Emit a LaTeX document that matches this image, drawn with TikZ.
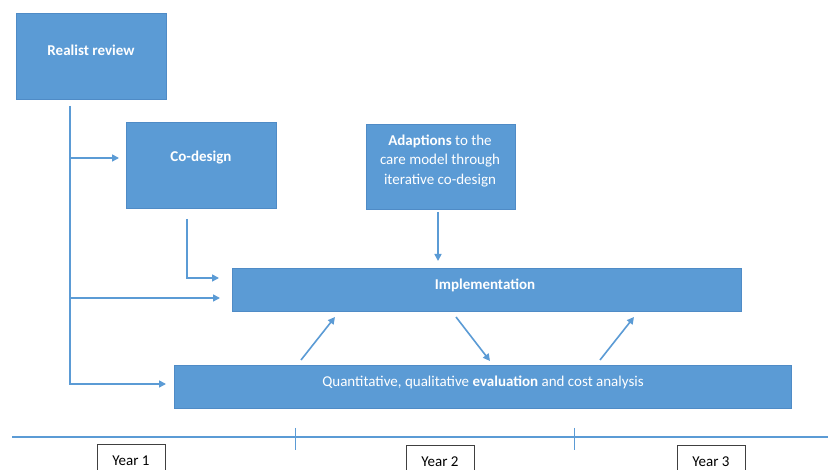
\documentclass[tikz,border=0pt]{standalone}
\usepackage{fontspec}
\setmainfont{Carlito}
\usetikzlibrary{arrows.meta}
\definecolor{obl}{HTML}{5B9BD5}
\definecolor{obd}{HTML}{4F8BC6}
\begin{document}
\begin{tikzpicture}[x=1pt,y=-1pt,
  box/.style={draw=obd, fill=obl, line width=0.8pt, rectangle, inner sep=0pt, anchor=north west},
  lbl/.style={text=white, font=\fontsize{15}{19.5}\selectfont, align=center, inner sep=0pt},
  conn/.style={draw=obl, line width=1.6pt, -{Triangle[length=7pt,width=7pt]}},
  yearbox/.style={draw=black!75, fill=white, line width=0.8pt, rectangle, inner sep=0pt, anchor=north west, minimum width=68pt, minimum height=30pt},
  yearlbl/.style={text=black, font=\fontsize{15}{18}\selectfont, inner sep=0pt}]
\useasboundingbox (0,0) rectangle (828,470);
\clip (0,0) rectangle (828,470);
\fill[white] (0,0) rectangle (828,470);
% boxes
\node[box, minimum width=150pt, minimum height=86pt] (rr) at (16,13) {};
\node[box, minimum width=150pt, minimum height=86pt] (cd) at (126,122) {};
\node[box, minimum width=149pt, minimum height=85pt] (ad) at (366,124) {};
\node[box, minimum width=509pt, minimum height=43pt] (im) at (232,268) {};
\node[box, minimum width=617pt, minimum height=43pt] (ev) at (174,365) {};
% labels
\node[lbl] (rrt) at (91,50) {\textbf{Realist review}};
\node[lbl] (cdt) at (201,158) {\textbf{Co-design}};
\node[lbl] (adt) at (440,161) {\textbf{Adaptions} to the\\care model through\\iterative co-design};
\node[lbl] (imt) at (485,285) {\textbf{Implementation}};
\node[lbl] (evt) at (483,382) {Quantitative, qualitative \textbf{evaluation} and cost analysis};
% connector coordinates
\coordinate (rrs) at (70,106);
\coordinate (b1) at (70,158);
\coordinate (b1e) at (119,158);
\coordinate (b2) at (70,298);
\coordinate (b2e) at (220,298);
\coordinate (b3e) at (166,384);
\coordinate (cds) at (187,219);
\coordinate (cde) at (219,278);
\coordinate (ads) at (438,212);
\coordinate (ade) at (438,261);
\coordinate (d1s) at (301,360);
\coordinate (d1e) at (335,317);
\coordinate (d2s) at (456,317);
\coordinate (d2e) at (490,361);
\coordinate (d3s) at (600,360);
\coordinate (d3e) at (634,317);
% connectors
\draw[conn] (rrs) |- (b3e);
\draw[conn] (b1) -- (b1e);
\draw[conn] (b2) -- (b2e);
\draw[conn] (cds) |- (cde);
\draw[conn] (ads) -- (ade);
\draw[conn] (d1s) -- (d1e);
\draw[conn] (d2s) -- (d2e);
\draw[conn] (d3s) -- (d3e);
% timeline
\coordinate (tl0) at (12,437);
\coordinate (tl1) at (828,437);
\draw[obl, line width=1.5pt] (tl0) -- (tl1);
\coordinate (t1a) at (295,428); \coordinate (t1b) at (295,450);
\coordinate (t2a) at (574,428); \coordinate (t2b) at (574,450);
\draw[obl, line width=0.8pt] (t1a) -- (t1b);
\draw[obl, line width=0.8pt] (t2a) -- (t2b);
\node[yearbox] (y1) at (97,444) {};
\node[yearbox] (y2) at (406,445) {};
\node[yearbox] (y3) at (677,445) {};
\node[yearlbl] (y1t) at (131,461) {Year 1};
\node[yearlbl] (y2t) at (440,462) {Year 2};
\node[yearlbl] (y3t) at (711,462) {Year 3};
\end{tikzpicture}
\end{document}
